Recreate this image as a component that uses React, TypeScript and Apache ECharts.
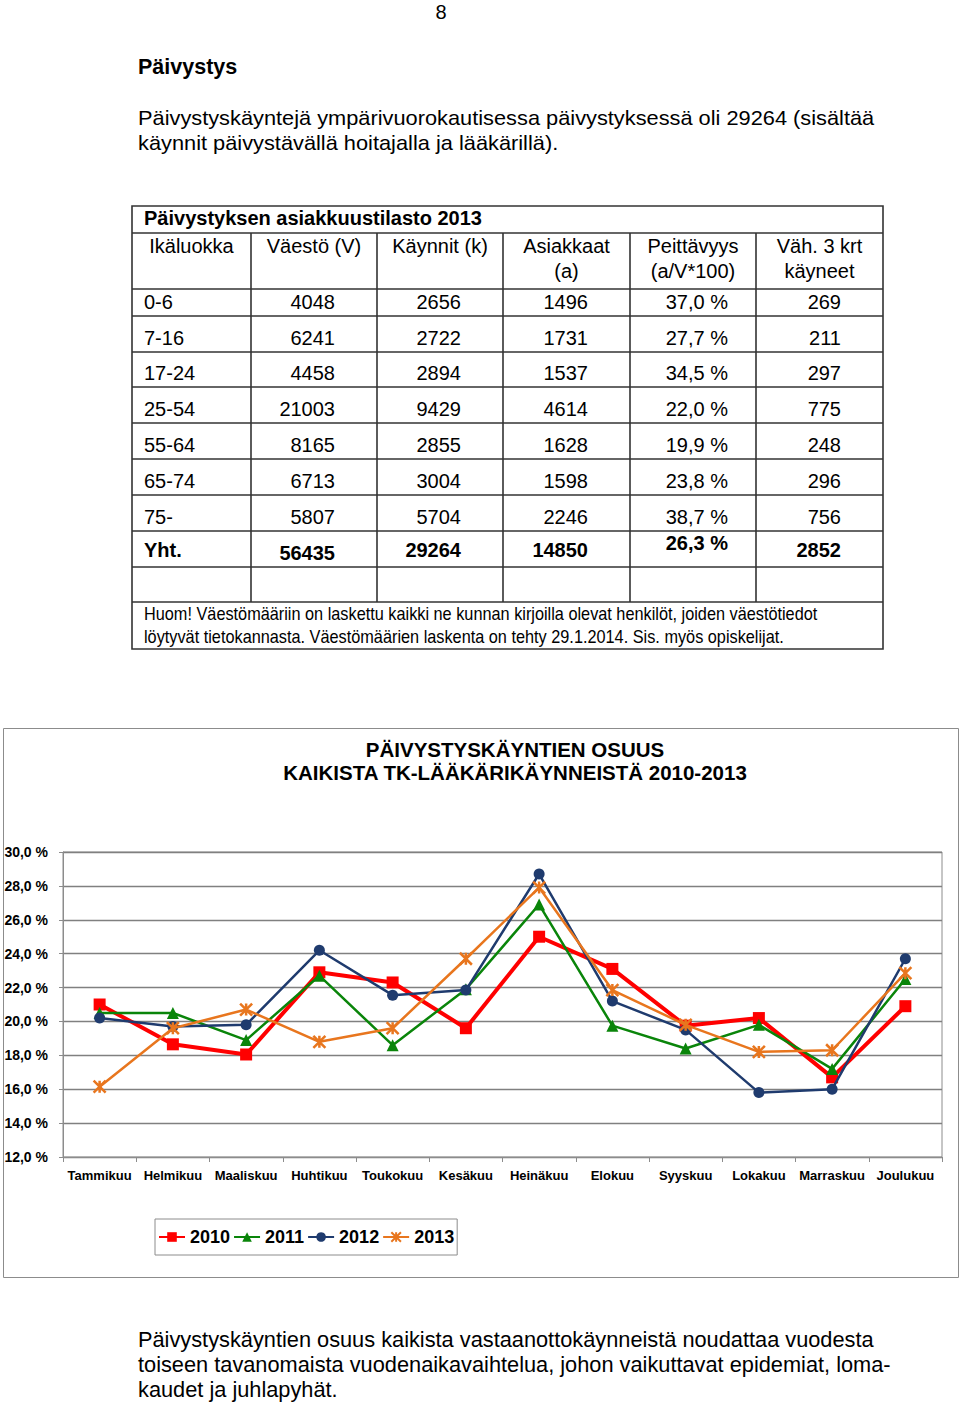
import React, { useEffect, useRef } from 'react';
import * as echarts from 'echarts';

const FONT = '"Liberation Sans", Arial, Helvetica, sans-serif';

// ---- chart data ----
const months = ['Tammikuu', 'Helmikuu', 'Maaliskuu', 'Huhtikuu', 'Toukokuu', 'Kesäkuu', 'Heinäkuu', 'Elokuu', 'Syyskuu', 'Lokakuu', 'Marraskuu', 'Joulukuu'];
const s2010 = [21.0, 18.65, 18.05, 22.9, 22.3, 19.6, 25.0, 23.1, 19.75, 20.2, 16.7, 20.9];
const s2011 = [20.5, 20.5, 18.9, 22.7, 18.6, 21.9, 26.9, 19.75, 18.4, 19.8, 17.2, 22.5];
const s2012 = [20.2, 19.7, 19.8, 24.2, 21.55, 21.85, 28.7, 21.2, 19.5, 15.8, 16.0, 23.7];
const s2013 = [16.15, 19.6, 20.7, 18.8, 19.6, 23.7, 27.9, 21.85, 19.8, 18.2, 18.3, 22.85];
const seriesNames = ['2010', '2011', '2012', '2013'];

// ---- table data ----
const tableTitle = 'Päivystyksen asiakkuustilasto 2013';
const headers = [['Ikäluokka'], ['Väestö (V)'], ['Käynnit (k)'], ['Asiakkaat', '(a)'], ['Peittävyys', '(a/V*100)'], ['Väh. 3 krt', 'käyneet']];
const ageGroups = ['0-6', '7-16', '17-24', '25-54', '55-64', '65-74', '75-'];
const population = [4048, 6241, 4458, 21003, 8165, 6713, 5807];
const visits = [2656, 2722, 2894, 9429, 2855, 3004, 5704];
const clients = [1496, 1731, 1537, 4614, 1628, 1598, 2246];
const coverage = [37.0, 27.7, 34.5, 22.0, 19.9, 23.8, 38.7];
const atLeast3 = [269, 211, 297, 775, 248, 296, 756];
const totalLabel = 'Yht.';
const totals = [56435, 29264, 14850, 26.3, 2852];
const noteLines = [
  'Huom! Väestömääriin on laskettu kaikki ne kunnan kirjoilla olevat henkilöt, joiden väestötiedot',
  'löytyvät tietokannasta. Väestömäärien laskenta on tehty 29.1.2014. Sis. myös opiskelijat.',
];

// ---- page text ----
const pageNumber = '8';
const heading = 'Päivystys';
const introLines = [
  'Päivystyskäyntejä ympärivuorokautisessa päivystyksessä oli 29264 (sisältää',
  'käynnit päivystävällä hoitajalla ja lääkärillä).',
];
const chartTitleLines = ['PÄIVYSTYSKÄYNTIEN OSUUS', 'KAIKISTA TK-LÄÄKÄRIKÄYNNEISTÄ 2010-2013'];
const outroLines = [
  'Päivystyskäyntien osuus kaikista vastaanottokäynneistä noudattaa vuodesta',
  'toiseen tavanomaista vuodenaikavaihtelua, johon vaikuttavat epidemiat, loma-',
  'kaudet ja juhlapyhät.',
];

const pct = (v: number) => v.toFixed(1).replace('.', ',') + ' %';

function txt(text: string, x: number, y: number, font: string, align = 'left', extra: any = {}) {
  return {
    type: 'text',
    x,
    y,
    silent: true,
    ...extra,
    style: {
      text,
      font,
      fill: '#000',
      textAlign: align,
      textVerticalAlign: 'middle',
      align,
      verticalAlign: 'middle',
    },
  };
}

function line(x1: number, y1: number, x2: number, y2: number, stroke = '#333333', lineWidth = 1.6) {
  return { type: 'line', silent: true, shape: { x1, y1, x2, y2 }, style: { stroke, lineWidth } };
}

function buildGraphic() {
  const g: any[] = [];
  const reg = `20px ${FONT}`;
  const bold = `bold 20px ${FONT}`;

  // page text
  g.push(txt(pageNumber, 441, 12, `20px ${FONT}`, 'center'));
  g.push(txt(heading, 138, 67, `bold 21.5px ${FONT}`));
  introLines.forEach((t, i) => g.push(txt(t, 138, 118 + i * 25, reg, 'left', { scaleX: 1.09 })));
  outroLines.forEach((t, i) => g.push(txt(t, 138, 1339 + i * 25, `22px ${FONT}`, 'left', { scaleX: 0.99 })));

  // table
  const colX = [132, 251, 377, 503, 630, 756, 883];
  const top = 206, titleBottom = 233, bottom = 649;
  const rowLines = [289, 316, 352, 387, 423, 459, 495, 531, 567, 602];
  g.push({ type: 'rect', silent: true, shape: { x: colX[0], y: top, width: colX[6] - colX[0], height: bottom - top }, style: { fill: 'none', stroke: '#333333', lineWidth: 1.6 } });
  g.push(line(colX[0], titleBottom, colX[6], titleBottom));
  rowLines.forEach((y) => g.push(line(colX[0], y, colX[6], y)));
  for (let c = 1; c < 6; c++) g.push(line(colX[c], titleBottom, colX[c], rowLines[rowLines.length - 1]));

  g.push(txt(tableTitle, 144, 218, bold));
  headers.forEach((h, c) => {
    const cx = (colX[c] + colX[c + 1]) / 2;
    h.forEach((t, i) => g.push(txt(t, cx, 246 + i * 25, reg, 'center')));
  });
  const rightX = [335, 461, 588, 728, 841];
  ageGroups.forEach((a, r) => {
    const y = rowLines[r + 1] - 14;
    g.push(txt(a, 144, y, reg));
    const vals = [String(population[r]), String(visits[r]), String(clients[r]), pct(coverage[r]), String(atLeast3[r])];
    vals.forEach((v, c) => g.push(txt(v, rightX[c], y, reg, 'right')));
  });
  const yT = 550;
  g.push(txt(totalLabel, 144, yT, bold));
  const tVals = [String(totals[0]), String(totals[1]), String(totals[2]), pct(totals[3]), String(totals[4])];
  const tOff = [3, 0, 0, -7, 0];
  tVals.forEach((v, c) => g.push(txt(v, rightX[c], yT + tOff[c], bold, 'right')));
  noteLines.forEach((t, i) => g.push(txt(t, 144, 614 + i * 23, `18px ${FONT}`, 'left', { scaleX: 0.905 })));

  // chart frame and title
  g.push({ type: 'rect', silent: true, z: -1, shape: { x: 3.5, y: 728.5, width: 955, height: 549 }, style: { fill: 'none', stroke: '#8c8c8c', lineWidth: 1 } });
  chartTitleLines.forEach((t, i) => g.push(txt(t, 515, 749 + i * 23, `bold 20.5px ${FONT}`, 'center')));
  return g;
}

const colors = ['#FF0000', '#0A850A', '#1F3B6E', '#E8761E'];
const symbols = ['rect', 'triangle', 'circle', 'path://M0,0L10,10M10,0L0,10M5,0L5,10'];
const symbolSizes = [12, 12, 11, 12];
const widths = [4, 2.5, 2.5, 2.5];
const seriesData = [s2010, s2011, s2012, s2013];

function buildOption() {
  return {
    animation: false,
    backgroundColor: '#fff',
    textStyle: { fontFamily: FONT },
    graphic: buildGraphic(),
    grid: { left: 63, right: 18, top: 852, bottom: 245, show: true, borderColor: '#8c8c8c', borderWidth: 1, containLabel: false },
    legend: {
      left: 155,
      top: 1219,
      itemWidth: 26,
      itemHeight: 12,
      itemGap: 3,
      padding: [9, 3, 9, 3],
      borderColor: '#8c8c8c',
      borderWidth: 1,
      selectedMode: false,
      textStyle: { fontSize: 18, fontWeight: 'bold', color: '#000', fontFamily: FONT },
      data: seriesNames,
    },
    xAxis: {
      type: 'category',
      data: months,
      boundaryGap: true,
      axisLine: { show: true, lineStyle: { color: '#8c8c8c', width: 1 } },
      axisTick: { show: true, length: 5, interval: 0, lineStyle: { color: '#8c8c8c' } },
      axisLabel: { interval: 0, margin: 12, color: '#000', fontSize: 13, fontWeight: 'bold', fontFamily: FONT },
      splitLine: { show: false },
    },
    yAxis: {
      type: 'value',
      min: 12,
      max: 30,
      interval: 2,
      axisLine: { show: true, lineStyle: { color: '#8c8c8c', width: 1 } },
      axisTick: { show: true, length: 4, lineStyle: { color: '#8c8c8c' } },
      axisLabel: { margin: 15, color: '#000', fontSize: 14, fontWeight: 'bold', fontFamily: FONT, formatter: (v: number) => pct(v) },
      splitLine: { show: true, lineStyle: { color: '#808080', width: 1.3 } },
    },
    series: seriesNames.map((name, i) => ({
      name,
      type: 'line',
      data: seriesData[i],
      symbol: symbols[i],
      symbolSize: symbolSizes[i],
      showAllSymbol: true,
      lineStyle: { color: colors[i], width: widths[i] },
      itemStyle: { color: colors[i], borderColor: colors[i], borderWidth: i === 3 ? 2.5 : 0 },
      emphasis: { disabled: true },
      z: 2 + i,
    })),
  };
}

export default function App() {
  const ref = useRef<HTMLDivElement>(null);
  useEffect(() => {
    if (!ref.current) return;
    const chart = echarts.init(ref.current, null, { renderer: 'svg' });
    chart.setOption(buildOption() as any);
    return () => chart.dispose();
  }, []);
  return <div ref={ref} style={{ position: 'absolute', left: 0, top: 0, width: 960, height: 1402, background: '#fff' }} />;
}
